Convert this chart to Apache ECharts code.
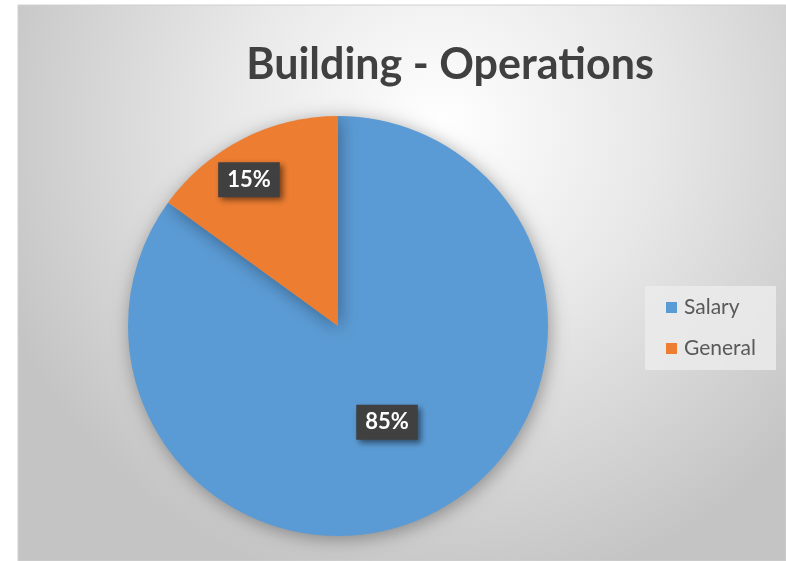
<!DOCTYPE html>
<html>
<head>
<meta charset="utf-8">
<script src="https://cdn.jsdelivr.net/npm/echarts@6/dist/echarts.min.js"></script>
<style>
  html, body { margin: 0; padding: 0; background: #fff; }
  #main { width: 786px; height: 561px; }
</style>
</head>
<body>
<div id="main"></div>
<script>
var chartTitle = 'Building - Operations';
var categories = ['Salary', 'General'];
var values = [85, 15];
var colors = ['#5B9BD5', '#ED7D31'];

function buildData() {
    var ds = [];
    // labels sit where excel's best-fit puts them
    var offsets = [[0, 0], [-40, -50]];
    for (var i = 0; i < categories.length; i++) {
        ds.push({
            name: categories[i],
            value: values[i],
            itemStyle: { color: colors[i] },
            label: { offset: offsets[i] }
        });
    }
    return ds;
}

function render() {
    var myChart = echarts.init(document.getElementById('main'), null, { renderer: 'canvas' });

    var option = {
        animation: false,
        backgroundColor: '#fff',
        graphic: [
            {
                type: 'rect',
                z: -10,
                shape: { x: 18, y: 5, width: 768, height: 556 },
                style: {
                    fill: new echarts.graphic.RadialGradient(0.55, 0.22, 0.85, [
                        { offset: 0, color: '#ffffff' },
                        { offset: 0.45, color: '#e8e8e8' },
                        { offset: 1, color: '#c4c4c4' }
                    ]),
                    stroke: '#d0d0d0',
                    lineWidth: 1
                }
            }
        ],
        title: {
            text: chartTitle,
            left: 445,
            top: 39,
            textAlign: 'center',
            textStyle: {
                fontFamily: 'Lato',
                fontWeight: 'bold',
                fontSize: 43,
                color: '#404040'
            }
        },
        legend: {
            orient: 'vertical',
            left: 645,
            top: 286,
            width: 132,
            padding: [11, 20, 11, 21],
            itemGap: 20,
            itemWidth: 11,
            itemHeight: 11,
            backgroundColor: 'rgba(235,235,235,0.85)',
            icon: 'rect',
            data: categories,
            textStyle: {
                fontFamily: 'Lato',
                fontSize: 21,
                color: '#595959',
                padding: [0, 0, 0, 2]
            }
        },
        series: [
            {
                type: 'pie',
                center: [338, 326],
                radius: [0, 210],
                startAngle: 90,
                clockwise: true,
                itemStyle: {
                    shadowColor: 'rgba(0,0,0,0.35)',
                    shadowBlur: 18,
                    shadowOffsetX: 2,
                    shadowOffsetY: 3
                },
                emphasis: { disabled: true },
                label: {
                    show: true,
                    position: 'inside',
                    formatter: '{c}%',
                    fontFamily: 'Lato',
                    fontWeight: 'bold',
                    fontSize: 22,
                    color: '#ffffff',
                    backgroundColor: '#404040',
                    padding: [7, 9, 6, 9],
                    shadowColor: 'rgba(0,0,0,0.5)',
                    shadowBlur: 6,
                    shadowOffsetX: 3,
                    shadowOffsetY: 3
                },
                labelLine: { show: false },
                data: buildData()
            }
        ]
    };

    myChart.setOption(option);
}

render();
</script>
</body>
</html>
